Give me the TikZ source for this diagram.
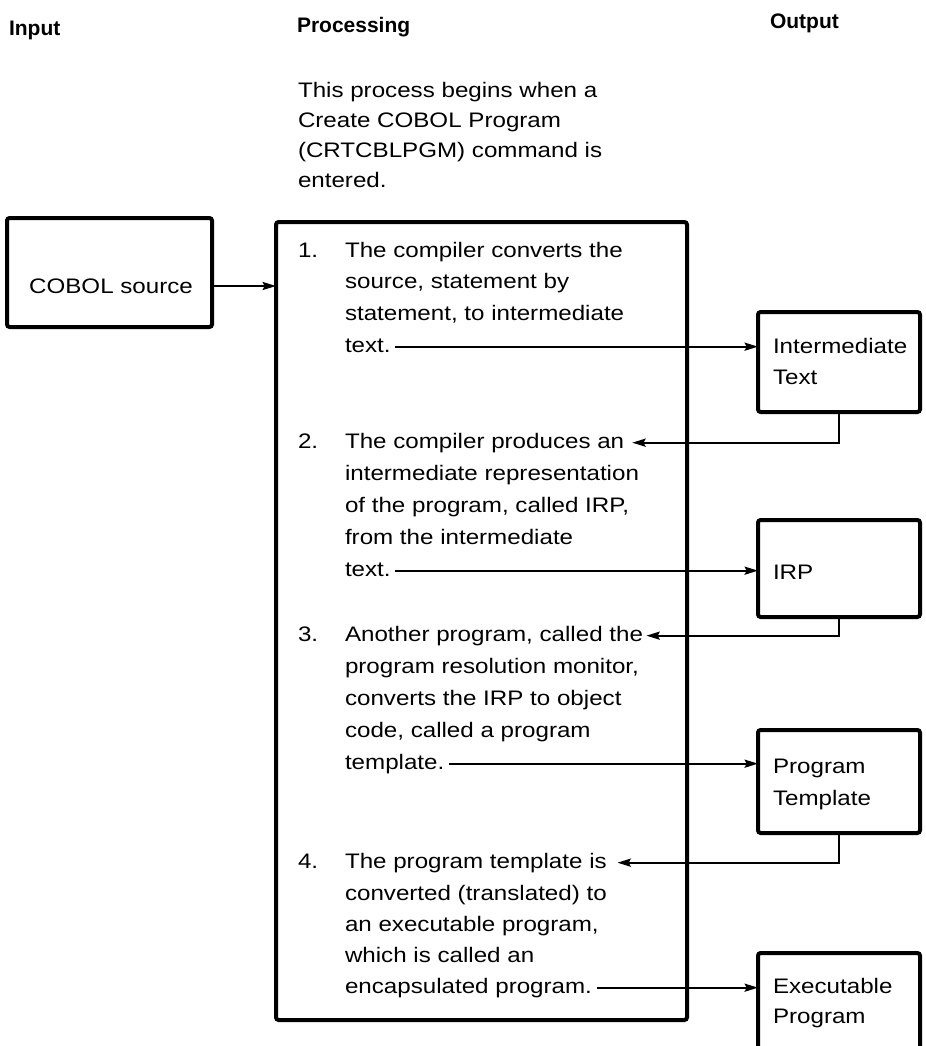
\documentclass[tikz,border=0pt]{standalone}
\usepackage{fontspec}
\setmainfont{Liberation Sans}
\newfontfamily\bodyfont{Liberation Sans}[FakeStretch=1.15]
\newfontfamily\headfont{Liberation Sans}
\usetikzlibrary{arrows.meta}

\begin{document}
\begin{tikzpicture}[x=0.75pt,y=-0.75pt,
  every node/.style={inner sep=0pt, outer sep=0pt},
  txt/.style={anchor=base west, text height=11pt, text depth=3pt,
    font=\bodyfont\fontsize{15.75}{18}\selectfont},
  head/.style={anchor=base west, font=\headfont\bfseries\fontsize{15.75}{18}\selectfont},
  frame/.style={draw, line width=3pt, rounded corners=2pt},
  link/.style={draw, line width=1.6pt, -{Stealth[length=10pt,width=6pt,inset=1.5pt]}},
]
\useasboundingbox (0,0) rectangle (925,1046);
\clip (0,0) rectangle (925,1046);

% column headings
\node[head] (hin)  at (9,35)   {Input};
\node[head] (hpro) at (297,32) {Processing};
\node[head] (hout) at (770,28) {Output};

% introduction
\node[txt] (i1) at (298,97)  {This process begins when a};
\node[txt] (i2) at (298,127) {Create COBOL Program};
\node[txt] (i3) at (298,157) {(CRTCBLPGM) command is};
\node[txt] (i4) at (298,187) {entered.};

% input box
\node[frame, minimum width=153.75pt, minimum height=81.75pt] (cobol) at (109.5,272.5) {};
\node[font=\bodyfont\fontsize{15.75}{18}\selectfont] (cobtxt) at (111,286) {COBOL source};

% processing box
\node[frame, minimum width=308.25pt, minimum height=598.5pt] (main) at (481.5,621) {};

% step 1
\node[txt] (n1)  at (298,257) {1.};
\node[txt] (l1a) at (345,257) {The compiler converts the};
\node[txt] (l1b) at (345,288) {source, statement by};
\node[txt] (l1c) at (345,320) {statement, to intermediate};
\node[txt] (l1d) at (345,352) {text.};

% step 2
\node[txt] (n2)  at (298,448) {2.};
\node[txt] (l2a) at (345,448) {The compiler produces an};
\node[txt] (l2b) at (345,480) {intermediate representation};
\node[txt] (l2c) at (345,512) {of the program, called IRP,};
\node[txt] (l2d) at (345,544) {from the intermediate};
\node[txt] (l2e) at (345,576) {text.};

% step 3
\node[txt] (n3)  at (298,641) {3.};
\node[txt] (l3a) at (345,641) {Another program, called the};
\node[txt] (l3b) at (345,673) {program resolution monitor,};
\node[txt] (l3c) at (345,705) {converts the IRP to object};
\node[txt] (l3d) at (345,737) {code, called a program};
\node[txt] (l3e) at (345,769) {template.};

% step 4
\node[txt] (n4)  at (298,868) {4.};
\node[txt] (l4a) at (345,868) {The program template is};
\node[txt] (l4b) at (345,900) {converted (translated) to};
\node[txt] (l4c) at (345,931) {an executable program,};
\node[txt] (l4d) at (345,962) {which is called an};
\node[txt] (l4e) at (345,993) {encapsulated program.};

% output boxes
\node[frame, minimum width=121.5pt, minimum height=75pt]    (itext) at (839,362)    {};
\node[frame, minimum width=121.5pt, minimum height=72.75pt] (irp)   at (839,568.5)  {};
\node[frame, minimum width=121.5pt, minimum height=77.25pt] (ptmpl) at (839,781.5)  {};
\node[frame, minimum width=121.5pt, minimum height=80.25pt] (exe)   at (839,1006.5) {};

\node[txt] (o1a) at (773,353)  {Intermediate};
\node[txt] (o1b) at (773,384)  {Text};
\node[txt] (o2a) at (773,579)  {IRP};
\node[txt] (o3a) at (773,773)  {Program};
\node[txt] (o3b) at (773,805)  {Template};
\node[txt] (o4a) at (773,993)  {Executable};
\node[txt] (o4b) at (773,1023) {Program};

% connectors
\draw[link] (cobol.east |- cobtxt) -- (main.west |- cobtxt);
\draw[link] ([xshift=3.5pt]l1d.east) -- (itext.west |- l1d.east);
\draw[link] (itext.south) |- ([xshift=6pt]l2a.east);
\draw[link] ([xshift=3.5pt]l2e.east) -- (irp.west |- l2e.east);
\draw[link] (irp.south) |- ([xshift=2.5pt]l3a.east);
\draw[link] ([xshift=3.5pt]l3e.east) -- (ptmpl.west |- l3e.east);
\draw[link] (ptmpl.south) |- ([xshift=8pt]l4a.east);
\draw[link] ([xshift=3.5pt]l4e.east) -- (exe.west |- l4e.east);
\end{tikzpicture}
\end{document}
